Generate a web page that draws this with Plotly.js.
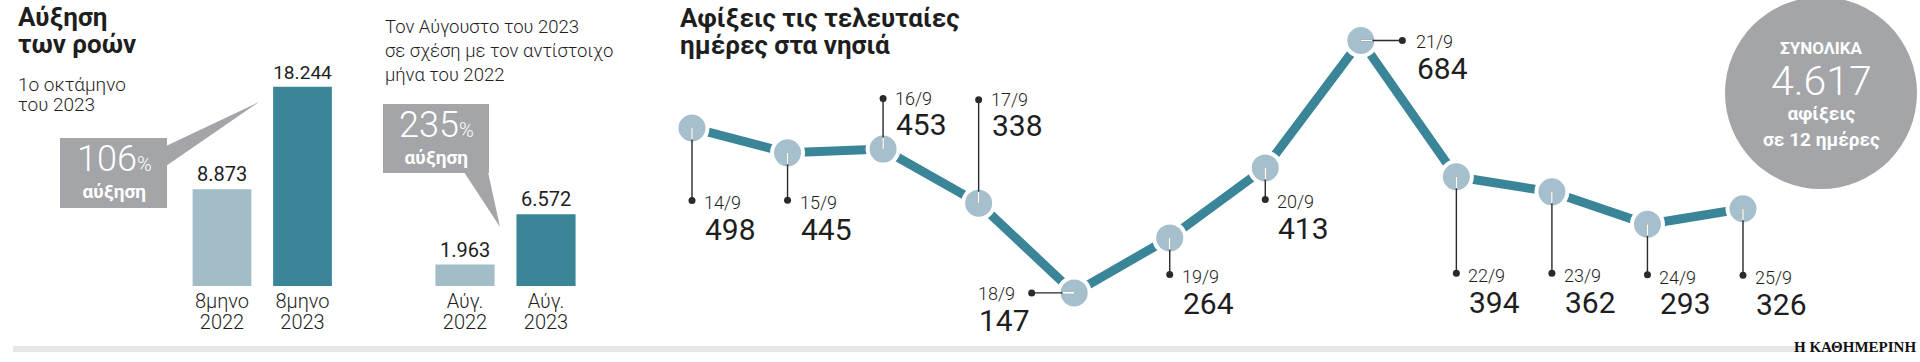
<!DOCTYPE html>
<html>
<head>
<meta charset="utf-8">
<script src="https://cdn.plot.ly/plotly-3.0.1.min.js"></script>
<style>html,body{margin:0;padding:0;background:#fff;}#chart{width:1920px;height:362px;}</style>
</head>
<body>
<div id="chart"></div>
<script>
// ---------- DATA ----------
const overallYears = ['2022', '2023'];
const overallPeriod = ['8μηνο', '8μηνο'];
const overallValues = [8873, 18244];
const overallIncrease = 106;

const augYears = ['2022', '2023'];
const augPeriod = ['Αύγ.', 'Αύγ.'];
const augValues = [1963, 6572];
const augIncrease = 235;

const days = ['14/9', '15/9', '16/9', '17/9', '18/9', '19/9', '20/9', '21/9', '22/9', '23/9', '24/9', '25/9'];
const arrivals = [498, 445, 453, 338, 147, 264, 413, 684, 394, 362, 293, 326];
const totalArrivals = 4617;
const totalDays = 12;

// ---------- STYLE ----------
const W = 1920, H = 362;
const FONT = 'Roboto, "Noto Sans", sans-serif';
const TEXT = '#1e1e1e';
const LIGHT = '#a2bcc8';
const DARK = '#3a8597';
const MARK = '#a5bfcc';
const GRAY = '#a3a5a8';

// leader offsets (screen px, y downwards) for each day label
const leadDx = [0, 0, 0, 0, -44, 0, 0, 43, 0, 0, 0, 0];
const leadDy = [74, 49, -52, -105, 0, 38, 33, 0, 98, 83, 52, 68];

const px = x => x / W;
const py = y => 1 - y / H;
const fmt = n => String(n).replace(/\B(?=(\d{3})+(?!\d))/g, '.');
const sz = (s, t) => '<span style="font-size:' + s + 'px">' + t + '</span>';

// block of text: x, y = vertical centre (px from top), base size sets line spacing (1.3 x base)
function block(text, x, yc, base, weight, color, xanchor) {
  const xa = xanchor || 'left';
  return {
    xref: 'paper', yref: 'paper', x: px(x), y: py(yc),
    text: text, showarrow: false, xanchor: xa, align: xa, yanchor: 'middle',
    font: {family: FONT, size: base, weight: weight, color: color || TEXT}
  };
}

// ---------- TRACES ----------
const traces = [
  {
    type: 'bar', x: overallYears, y: overallValues, xaxis: 'x', yaxis: 'y',
    marker: {color: [LIGHT, DARK]},
    texttemplate: '%{y:,}', textposition: 'outside', cliponaxis: false,
    textfont: {family: FONT, size: 20, color: TEXT}, hoverinfo: 'skip'
  },
  {
    type: 'bar', x: augYears, y: augValues, xaxis: 'x2', yaxis: 'y2',
    marker: {color: [LIGHT, DARK]},
    texttemplate: '%{y:,}', textposition: 'outside', cliponaxis: false,
    textfont: {family: FONT, size: 20, color: TEXT}, hoverinfo: 'skip'
  },
  {
    type: 'scatter', mode: 'lines+markers', x: days, y: arrivals, xaxis: 'x3', yaxis: 'y3',
    line: {color: DARK, width: 9},
    marker: {size: 31, color: MARK, line: {color: '#ffffff', width: 4}},
    cliponaxis: false, hoverinfo: 'skip'
  }
];

// ---------- ANNOTATIONS ----------
const ann = [];
ann.push(block(sz(26, 'Αύξηση') + '<br>' + sz(26, 'των ροών'), 16, 30.5, 20.8, 700));
ann.push(block(sz(19, '1ο οκτάμηνο') + '<br>' + sz(19, 'του 2023'), 16, 94.5, 15.4, 300));
ann.push(block('Τον Αύγουστο του 2023<br>σε σχέση με τον αντίστοιχο<br>μήνα του 2022', 383, 50.7, 18.5, 300));
ann.push(block(sz(26, 'Αφίξεις τις τελευταίες') + '<br>' + sz(26, 'ημέρες στα νησιά'), 678, 31.5, 20.8, 700));

const pctText = p => sz(36, String(p)) + sz(20, '%') + '<br>' + sz(19, '<b>αύξηση</b>');
ann.push(block(pctText(overallIncrease), 114, 171, 20.4, 300, '#ffffff', 'center'));
ann.push(block(pctText(augIncrease), 436, 136.5, 20.4, 300, '#ffffff', 'center'));

ann.push(block('<b>ΣΥΝΟΛΙΚΑ</b>', 1821, 54 - 6, 17, 300, '#ffffff', 'center'));
ann.push(block(sz(41, fmt(totalArrivals)) + '<br>' + sz(19, '<b>αφίξεις</b>') + '<br>' +
  sz(19, '<b>σε ' + totalDays + ' ημέρες</b>'), 1821, 103.7, 19.5, 300, '#ffffff', 'center'));

ann.push({xref: 'paper', yref: 'paper', x: px(1918), y: py(347), text: 'Η ΚΑΘΗΜΕΡΙΝΗ', showarrow: false,
  xanchor: 'right', yanchor: 'middle', font: {family: '"Liberation Serif", serif', size: 15, weight: 700, color: '#111'}});

days.forEach((d, i) => {
  const dx = leadDx[i], dy = leadDy[i];
  // dark leader from dot to point centre
  ann.push({xref: 'x3', yref: 'y3', x: d, y: arrivals[i], text: '', showarrow: true,
    axref: 'pixel', ayref: 'pixel', ax: dx, ay: dy, arrowcolor: '#2a2a2a', arrowwidth: 1.4,
    arrowside: 'start', startarrowhead: 6, startarrowsize: 1.25, standoff: 0, startstandoff: 0});
  // white segment inside the marker
  const len = Math.hypot(dx, dy);
  ann.push({xref: 'x3', yref: 'y3', x: d, y: arrivals[i], text: '', showarrow: true,
    axref: 'pixel', ayref: 'pixel', ax: dx / len * 13, ay: dy / len * 13, arrowcolor: '#ffffff',
    arrowwidth: 1.6, arrowhead: 0, standoff: 0});
  const lx = dx < 0 ? dx - 54 : dx + 10;
  ann.push({xref: 'x3', yref: 'y3', x: d, y: arrivals[i], text: d, showarrow: false,
    xanchor: 'left', yanchor: 'middle', xshift: lx, yshift: -(dy + 1),
    font: {family: FONT, size: 18, weight: 300, color: TEXT}});
  ann.push({xref: 'x3', yref: 'y3', x: d, y: arrivals[i], text: fmt(arrivals[i]), showarrow: false,
    xanchor: 'left', yanchor: 'middle', xshift: lx + 1, yshift: -(dy + 27.5),
    font: {family: FONT, size: 30, weight: 400, color: TEXT}});
});

// ---------- SHAPES ----------
function pathOf(pts) {
  return 'M ' + pts.map(p => px(p[0]) + ' ' + py(p[1])).join(' L ') + ' Z';
}
const shapes = [
  {type: 'rect', xref: 'paper', yref: 'paper', x0: px(13), x1: px(1805), y0: py(352), y1: py(346), fillcolor: '#e6e6e6', line: {width: 0}},
  {type: 'rect', xref: 'paper', yref: 'paper', x0: px(60), x1: px(167), y0: py(208), y1: py(138), fillcolor: GRAY, line: {width: 0}},
  {type: 'path', xref: 'paper', yref: 'paper', path: pathOf([[166, 146], [259, 102], [166, 166]]), fillcolor: GRAY, line: {width: 0}},
  {type: 'rect', xref: 'paper', yref: 'paper', x0: px(383), x1: px(489), y0: py(173), y1: py(104), fillcolor: GRAY, line: {width: 0}},
  {type: 'path', xref: 'paper', yref: 'paper', path: pathOf([[464, 172], [500, 227], [488, 172]]), fillcolor: GRAY, line: {width: 0}},
  {type: 'circle', xref: 'paper', yref: 'paper', x0: px(1725), x1: px(1917), y0: py(189), y1: py(-3), fillcolor: GRAY, line: {width: 0}}
];

// ---------- AXES ----------
const hidden = {showgrid: false, zeroline: false, showline: false, showticklabels: false, ticks: '', fixedrange: true};
const tickFont = {family: FONT, size: 16.2, weight: 300, color: TEXT};
const yRange = [0, 26200];
const barDomainY = [1 - 286 / H, 1];
const catLabel = (p, y) => sz(20, p) + '<br>' + sz(20, y);

const layout = {
  width: W, height: H, margin: {l: 0, r: 0, t: 0, b: 0},
  paper_bgcolor: '#ffffff', plot_bgcolor: 'rgba(0,0,0,0)',
  showlegend: false, separators: ',.', bargap: 0.27,
  font: {family: FONT, color: TEXT},
  xaxis: Object.assign({}, hidden, {domain: [181.75 / W, 342.75 / W], type: 'category', range: [-0.5, 1.5],
    anchor: 'y', showticklabels: true, tickmode: 'array', tickvals: overallYears,
    ticktext: overallYears.map((y, i) => catLabel(overallPeriod[i], y)),
    tickfont: tickFont, ticklabelstandoff: 5}),
  yaxis: Object.assign({}, hidden, {domain: barDomainY, range: yRange, anchor: 'x'}),
  xaxis2: Object.assign({}, hidden, {domain: [424.5 / W, 586.5 / W], type: 'category', range: [-0.5, 1.5],
    anchor: 'y2', showticklabels: true, tickmode: 'array', tickvals: augYears,
    ticktext: augYears.map((y, i) => catLabel(augPeriod[i], y)),
    tickfont: tickFont, ticklabelstandoff: 5}),
  yaxis2: Object.assign({}, hidden, {domain: barDomainY, range: yRange, anchor: 'x2'}),
  xaxis3: Object.assign({}, hidden, {domain: [692 / W, 1743 / W], type: 'category', range: [0, 11], anchor: 'y3'}),
  yaxis3: Object.assign({}, hidden, {domain: [0, 1], range: [0, 770.2], anchor: 'x3'}),
  annotations: ann,
  shapes: shapes
};

Plotly.newPlot('chart', traces, layout, {displayModeBar: false, staticPlot: true});
</script>
</body>
</html>
